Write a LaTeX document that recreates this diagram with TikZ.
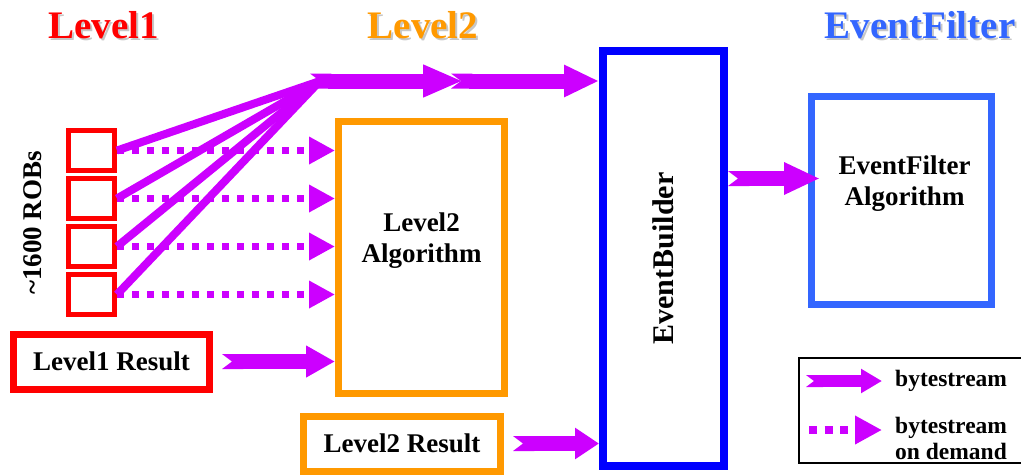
\documentclass[tikz,border=0pt]{standalone}
\usepackage{fontspec}
\setmainfont{Liberation Serif}
\usetikzlibrary{arrows.meta, positioning}
\definecolor{mag}{HTML}{CC00FF}
\definecolor{lvlred}{HTML}{FF0000}
\definecolor{lvlorange}{HTML}{FF9900}
\definecolor{ebblue}{HTML}{0000FF}
\definecolor{efblue}{HTML}{3366FF}
\newcommand{\shadowtitle}[2]{\rlap{\kern2pt\raisebox{-2pt}{\color{black!22}#2}}{\color{#1}#2}}
\begin{document}
\begin{tikzpicture}[x=1pt, y=-1pt,
        title/.style={anchor=base, font=\fontsize{39}{42}\selectfont\bfseries, inner sep=0},
        boxtext/.style={font=\fontsize{27}{31}\selectfont\bfseries, align=center},
        rob/.style={rectangle, draw=lvlred, line width=5pt, minimum width=46pt, minimum height=40pt, inner sep=0},
        result/.style={rectangle, line width=7pt, minimum height=55pt, inner sep=0, boxtext},
        algo/.style={rectangle, line width=7pt, inner sep=0},
        fat/.style={draw=mag, line width=15pt, {Triangle Cap[reversed,length=10pt]}-{Triangle[length=#1,width=30pt]}},
        fat/.default=32pt,
        dots/.style={draw=mag, line width=7pt, dash pattern=on 7pt off 8pt, -{Triangle[length=26pt,width=26pt]}},
        legendtext/.style={anchor=west, font=\fontsize{23.5}{26}\selectfont\bfseries, align=left, inner sep=0}
    ]
        \useasboundingbox (0,0) rectangle (1021,475);

        % titles
        \node (t1) [title] at (103.5,38) {\shadowtitle{lvlred}{Level1}};
        \node (t2) [title] at (423,38) {\shadowtitle{lvlorange}{Level2}};
        \node (t3) [title] at (920,38) {\shadowtitle{efblue}{EventFilter}};

        % read-out buffers
        \node (rob1) [rob] at (91.5,150.5) {};
        \node (rob2) [rob, below=3pt of rob1] {};
        \node (rob3) [rob, below=3pt of rob2] {};
        \node (rob4) [rob, below=3pt of rob3] {};
        \node (robs) [boxtext, rotate=90] at (33,223) {\textasciitilde1600 ROBs};

        % boxes
        \node (l1res) [result, draw=lvlred, minimum width=196pt] at (111.5,361.5) {Level1 Result};
        \node (l2alg) [algo, draw=lvlorange, minimum width=166pt, minimum height=272pt,
            label={[boxtext, yshift=17pt]center:Level2\\Algorithm}] at (421.5,257.5) {};
        \node (l2res) [result, draw=lvlorange, minimum width=197pt] at (402,443.5) {Level2 Result};
        \node (eb) [algo, draw=ebblue, line width=8pt, minimum width=121pt, minimum height=415pt] at (663.5,258.5) {};
        \node (ebtext) [boxtext, font=\fontsize{30}{33}\selectfont\bfseries, rotate=90] at (eb.center) {EventBuilder};
        \node (ef) [algo, draw=efblue, minimum width=180pt, minimum height=208pt,
            label={[boxtext, yshift=17pt, xshift=3pt]center:EventFilter\\Algorithm}] at (901.5,200.5) {};

        % collection point of the bytestream
        \coordinate (jn) at (320,81);
        \coordinate (mid) at (457,81);

        \draw [mag, line width=8pt] (rob1.east) -- (jn);
        \draw [mag, line width=8pt] (rob2.east) -- (jn);
        \draw [mag, line width=8pt] (rob3.east) -- (jn);
        \draw [mag, line width=8pt] (rob4.east) -- (jn);

        \draw [fat=40pt] ([xshift=-10pt]jn) -- ([xshift=6pt]mid);
        \draw [fat=35pt] ([xshift=-6pt]mid) -- (mid -| eb.west);

        \draw [dots] (rob1.east) -- (rob1.east -| l2alg.west);
        \draw [dots] (rob2.east) -- (rob2.east -| l2alg.west);
        \draw [dots] (rob3.east) -- (rob3.east -| l2alg.west);
        \draw [dots] (rob4.east) -- (rob4.east -| l2alg.west);

        \draw [fat=29pt, shorten <=9pt] (l1res.east) -- (l1res.east -| l2alg.west);
        \draw [fat=24pt, shorten <=9pt] (l2res.east) -- (l2res.east -| eb.west);
        \draw [fat=36pt, shorten >=-12pt] ([yshift=80pt]eb.east) -- ([yshift=22pt]ef.west);

        % legend
        \draw [line width=1.5pt] (799,358) rectangle (1040,463);
        \node (lg1) [legendtext] at (895,381) {bytestream};
        \node (lg2) [legendtext] at (895,438) {bytestream\\on demand};
        \draw [mag, line width=12pt, {Triangle Cap[reversed,length=8pt]}-{Triangle[length=21pt,width=23pt]}]
            ([xshift=-89pt]lg1.west) -- ([xshift=-13pt]lg1.west);
        \draw [draw=mag, line width=8pt, dash pattern=on 8pt off 7.5pt, -{Triangle[length=27pt,width=27pt]}]
            ([xshift=-86pt, yshift=8pt]lg2.west) -- ([xshift=-13pt, yshift=8pt]lg2.west);
    \end{tikzpicture}
\end{document}
